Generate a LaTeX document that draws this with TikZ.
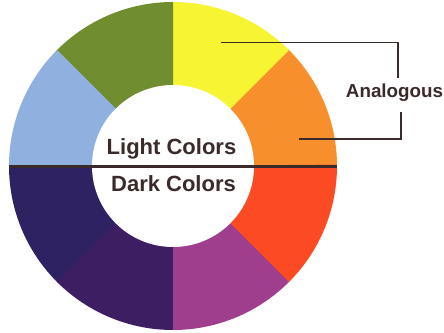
\documentclass[tikz,border=0pt]{standalone}
\usepackage{fontspec}
\setmainfont{Liberation Sans}
\definecolor{cgreen}{RGB}{112,142,48}
\definecolor{cyellow}{RGB}{247,244,52}
\definecolor{corange}{RGB}{247,144,44}
\definecolor{cred}{RGB}{252,74,34}
\definecolor{cmagenta}{RGB}{158,62,140}
\definecolor{cpurple}{RGB}{62,30,98}
\definecolor{cnavy}{RGB}{46,34,98}
\definecolor{cblue}{RGB}{144,176,224}
\definecolor{ink}{RGB}{58,42,42}
\begin{document}
\begin{tikzpicture}[x=1pt,y=1pt,
  lbl/.style={inner sep=0pt,text=ink,font=\bfseries},
  bracket/.style={draw=ink,line width=1.6pt}]
\useasboundingbox (0,0) rectangle (444,332);
\fill[white] (0,0) rectangle (444,332);
\coordinate (c) at (173,166);
\def\R{164}
\foreach \a/\col in {0/corange,45/cyellow,90/cgreen,135/cblue,180/cnavy,225/cpurple,270/cmagenta,315/cred}{
  \fill[\col] (c) -- ++(\a:\R) arc[start angle=\a,end angle=\a+45.5,radius=\R] -- cycle;
}
\fill[white] (c) circle[radius=81];
\coordinate (divl) at (9,165.5);
\coordinate (divr) at (337,165.5);
\draw[ink,line width=3pt] (divl) -- (divr);
\node[lbl,font=\bfseries\fontsize{22}{26}\selectfont,anchor=base] (light) at (171.5,177) {Light Colors};
\node[lbl,font=\bfseries\fontsize{22}{26}\selectfont,anchor=base] (dark) at (173.5,140) {Dark Colors};
\node[lbl,font=\bfseries\fontsize{18.8}{22}\selectfont,anchor=base] (an) at (394.5,234) {Analogous};
\coordinate (ya) at (221,289.3);
\coordinate (yb) at (398,289.3);
\coordinate (yc) at (398,254);
\coordinate (oa) at (401,220);
\coordinate (ob) at (401,193);
\coordinate (oc) at (299,193);
\draw[bracket] (ya) -- (yb) -- (yc);
\draw[bracket] (oa) -- (ob) -- (oc);
\end{tikzpicture}
\end{document}
